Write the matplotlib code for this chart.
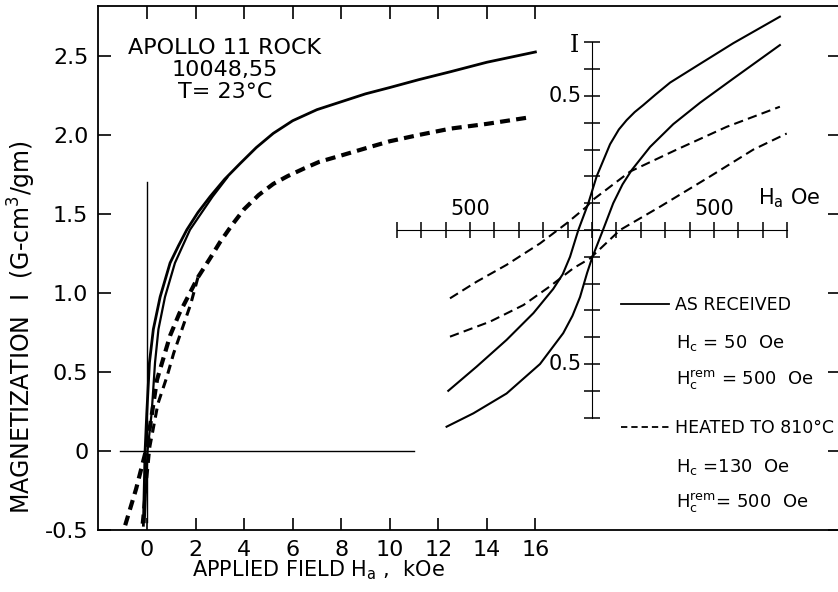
import numpy as np
import matplotlib.pyplot as plt

# main plot: applied field (kOe) vs magnetization (G-cm^3/gm)
h_recv_down = [-0.15, -0.08, -0.01, 0.10, 0.26, 0.54, 0.95, 1.3, 1.64, 2.1, 2.6, 3.2, 3.84, 4.5,
               5.2, 6.0, 7.0, 8.0, 9.0, 10.0, 11.2, 12.5, 14.0, 16.0]
i_recv_down = [-0.47, 0.0, 0.24, 0.56, 0.77, 0.975, 1.19, 1.30, 1.40, 1.51, 1.61, 1.72, 1.82, 1.92,
               2.01, 2.09, 2.16, 2.21, 2.26, 2.30, 2.35, 2.40, 2.46, 2.525]
h_recv_up = [-0.10, 0.02, 0.19, 0.33, 0.47, 0.74, 1.15, 1.77, 2.7, 3.3]
i_recv_up = [-0.45, 0.0, 0.24, 0.56, 0.77, 0.975, 1.19, 1.40, 1.61, 1.73]

h_heat_down = [-0.9, -0.45, 0.0, 0.41, 0.95, 1.33, 1.70, 2.1, 2.6, 3.0, 3.5, 4.0, 4.6, 5.2, 5.8,
               6.5, 7.1, 8.0, 9.1, 10.0, 11.2, 12.5, 14.0, 15.7]
i_heat_down = [-0.47, -0.24, 0.03, 0.45, 0.73, 0.87, 0.98, 1.10, 1.22, 1.32, 1.43, 1.53, 1.62, 1.69,
               1.74, 1.79, 1.83, 1.87, 1.92, 1.96, 2.0, 2.04, 2.07, 2.11]
h_heat_up = [-0.2, 0.12, 0.45, 0.82, 1.1, 1.44, 1.8, 2.1]
i_heat_up = [-0.46, 0.03, 0.30, 0.47, 0.62, 0.77, 0.93, 1.10]

# inset: low-field loops (Oe)
h_in_recv_down = [-589, -473, -350, -240, -159, -120, -90, -56, -15, 19, 74, 110, 142, 175, 210,
                  260, 320, 443, 579, 770]
i_in_recv_down = [-0.60, -0.51, -0.41, -0.31, -0.22, -0.165, -0.10, 0.0, 0.10, 0.20, 0.32, 0.375,
                  0.41, 0.44, 0.466, 0.505, 0.55, 0.62, 0.697, 0.796]
h_in_recv_up = [-596, -486, -350, -213, -118, -80, -49, -20, 0, 45, 87, 125, 163, 238, 333, 443,
                579, 770]
i_in_recv_up = [-0.734, -0.684, -0.61, -0.50, -0.385, -0.32, -0.25, -0.16, -0.105, 0.0, 0.10, 0.17,
                0.224, 0.31, 0.395, 0.475, 0.565, 0.69]
h_in_heat_down = [-582, -473, -350, -213, -104, -22, 0, 156, 347, 552, 770]
i_in_heat_down = [-0.255, -0.193, -0.13, -0.05, 0.025, 0.087, 0.11, 0.218, 0.30, 0.385, 0.46]
h_in_heat_up = [-582, -418, -281, -172, -77, -8, 115, 279, 484, 661, 798]
i_in_heat_up = [-0.398, -0.342, -0.28, -0.21, -0.143, -0.106, 0.0, 0.087, 0.20, 0.30, 0.36]

yticks = [-0.5, 0, 0.5, 1.0, 1.5, 2.0, 2.5]
ytick_labels = ['-0.5', '0', '0.5', '1.0', '1.5', '2.0', '2.5']
xticks = [0, 2, 4, 6, 8, 10, 12, 14, 16]

plt.rcParams['font.family'] = 'DejaVu Sans'

fig = plt.figure(figsize=(8.38, 5.92), dpi=100)
ax = fig.add_axes([98 / 838, 1 - 530 / 592, 742 / 838, 524 / 592])
ax.set_xlim(-2.02, 28.55)
ax.set_ylim(-0.5, 2.816)

ax.plot([-1.1, 11.0], [0, 0], color='black', lw=1)
ax.plot([0, 0], [-0.45, 1.7], color='black', lw=1)

ax.plot(h_recv_down, i_recv_down, color='black', lw=2)
ax.plot(h_recv_up, i_recv_up, color='black', lw=1.6)
ax.plot(h_heat_down, i_heat_down, color='black', lw=3, dashes=(2.4, 1.5))
ax.plot(h_heat_up, i_heat_up, color='black', lw=2.2, dashes=(3, 2))

ax.set_yticks(yticks)
ax.set_yticklabels(ytick_labels)
ax.set_xticks(xticks)
ax.tick_params(direction='in', length=9, width=1.2, top=True, right=True,
               labelsize=16, pad=7)
ax.spines['right'].set_visible(False)
for s in ['left', 'top', 'bottom']:
    ax.spines[s].set_linewidth(1.3)

fig.text(319 / 838, 1 - 570 / 592, 'APPLIED FIELD H$_{\\mathrm{a}}$ ,  kOe', fontsize=15,
         ha='center', va='center')
fig.text(22 / 838, 1 - 327 / 592, 'MAGNETIZATION  I  (G-cm$^3$/gm)', fontsize=17,
         rotation=90, ha='center', va='center')
fig.text(225 / 838, 1 - 70 / 592, 'APOLLO 11 ROCK\n10048,55\nT= 23°C', fontsize=16,
         ha='center', va='center', linespacing=1.15)

# inset axes, crossing at the origin
ins = fig.add_axes([396.8 / 838, 1 - 457.8 / 592, 390.4 / 838, 455.6 / 592])
ins.set_xlim(-800, 800)
ins.set_ylim(-0.85, 0.85)
ins.patch.set_visible(False)
ins.spines['left'].set_position(('data', 0))
ins.spines['bottom'].set_position(('data', 0))
ins.spines['left'].set_bounds(-0.7, 0.7)
ins.spines['bottom'].set_bounds(-800, 800)
ins.spines['right'].set_visible(False)
ins.spines['top'].set_visible(False)
ins.set_xticks(np.arange(-800, 801, 100))
ins.set_yticks(np.round(np.arange(-0.7, 0.71, 0.1), 1))
ins.tick_params(direction='inout', length=11, width=1.1, labelbottom=False, labelleft=False)

ins.plot(h_in_recv_down, i_in_recv_down, color='black', lw=1.5)
ins.plot(h_in_recv_up, i_in_recv_up, color='black', lw=1.5)
ins.plot(h_in_heat_down, i_in_heat_down, color='black', lw=1.5, dashes=(4.5, 2.5))
ins.plot(h_in_heat_up, i_in_heat_up, color='black', lw=1.5, dashes=(4.5, 2.5))

ins.text(-500, 0.04, '500', fontsize=15, ha='center', va='bottom')
ins.text(500, 0.04, '500', fontsize=15, ha='center', va='bottom')
ins.text(-40, 0.5, '0.5', fontsize=15, ha='right', va='center')
ins.text(-40, -0.5, '0.5', fontsize=15, ha='right', va='center')
ins.text(-55, 0.69, 'I', fontsize=17, ha='right', va='center', family='DejaVu Serif')
ins.text(680, 0.12, 'H$_{\\mathrm{a}}$ Oe', fontsize=15, ha='left', va='center')

# legend
hs, = ax.plot([], [], color='black', lw=1.3, label='AS RECEIVED')
hd, = ax.plot([], [], color='black', lw=1.3, dashes=(3.5, 2.2), label='HEATED TO 810°C')
ax.legend(handles=[hs, hd], loc='upper left', bbox_to_anchor=(621 / 838, 1 - 296 / 592),
          bbox_transform=fig.transFigure, frameon=False, fontsize=12.5, handlelength=2.76,
          handletextpad=0.34, labelspacing=6.05, borderpad=0, borderaxespad=0)
fig.text(676 / 838, 1 - 343 / 592, 'H$_{\\mathrm{c}}$ = 50  Oe', fontsize=13, va='center')
fig.text(676 / 838, 1 - 380 / 592, 'H$_{\\mathrm{c}}^{\\mathrm{rem}}$ = 500  Oe', fontsize=13, va='center')
fig.text(676 / 838, 1 - 467 / 592, 'H$_{\\mathrm{c}}$ =130  Oe', fontsize=13, va='center')
fig.text(676 / 838, 1 - 503 / 592, 'H$_{\\mathrm{c}}^{\\mathrm{rem}}$= 500  Oe', fontsize=13, va='center')

fig.savefig('out.png', dpi=100)
